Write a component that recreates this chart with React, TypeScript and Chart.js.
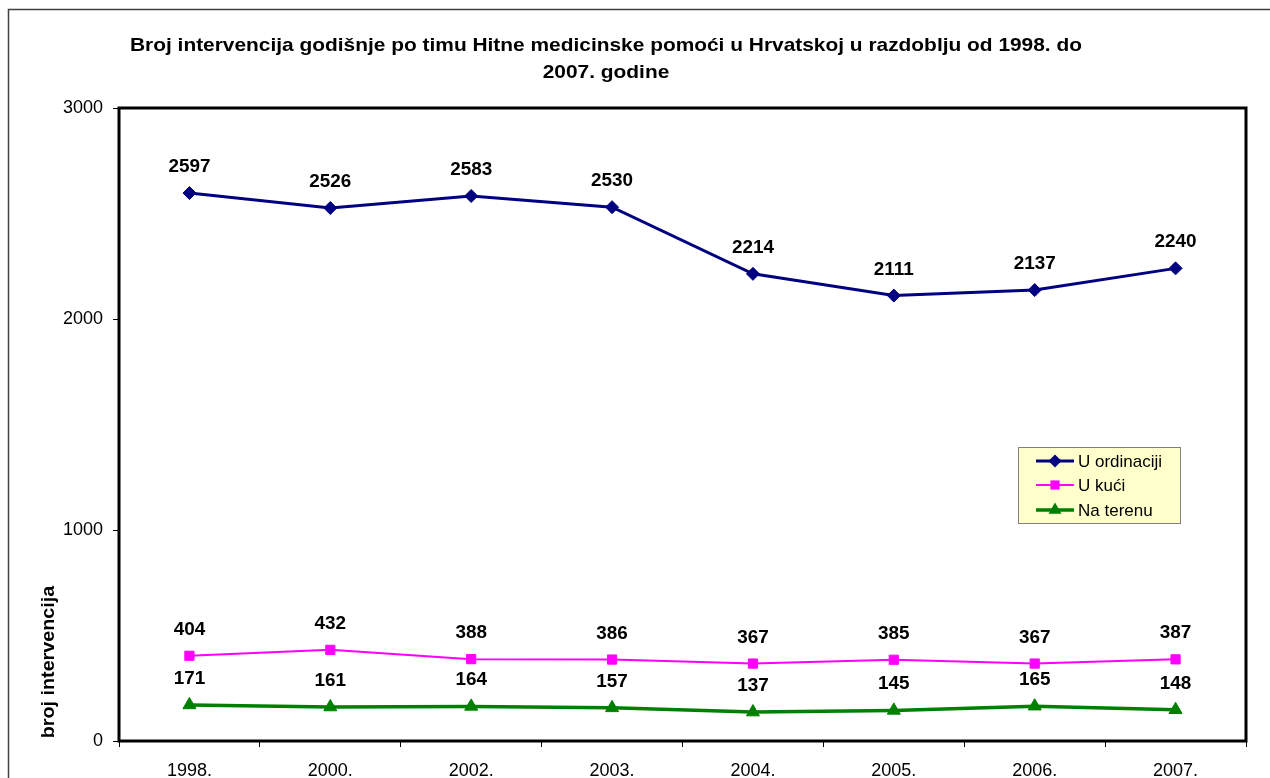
import React, { useEffect, useRef } from "react";
import { Chart, registerables } from "chart.js";

Chart.register(...registerables);

const categories = ["1998.", "2000.", "2002.", "2003.", "2004.", "2005.", "2006.", "2007."];
const uOrdinaciji = [2597, 2526, 2583, 2530, 2214, 2111, 2137, 2240];
const uKuci = [404, 432, 388, 386, 367, 385, 367, 387];
const naTerenu = [171, 161, 164, 157, 137, 145, 165, 148];
const yTicks = [0, 1000, 2000, 3000];

const titleLines = [
  "Broj intervencija godišnje po timu Hitne medicinske pomoći u Hrvatskoj u razdoblju od 1998. do",
  "2007. godine",
];
const yTitle = "broj intervencija";

const FONT = "'Liberation Sans', Arial, Helvetica, sans-serif";

function drawMarker(ctx: CanvasRenderingContext2D, style: string, x: number, y: number, r: number) {
  ctx.beginPath();
  if (style === "rectRot") {
    ctx.moveTo(x, y - r);
    ctx.lineTo(x + r, y);
    ctx.lineTo(x, y + r);
    ctx.lineTo(x - r, y);
  } else if (style === "rect") {
    const s = r * Math.SQRT1_2;
    ctx.rect(x - s, y - s, 2 * s, 2 * s);
  } else {
    const h = r * 1.5;
    const half = (r * Math.sqrt(3)) / 2;
    ctx.moveTo(x, y - h * 0.667);
    ctx.lineTo(x + half, y + h * 0.333);
    ctx.lineTo(x - half, y + h * 0.333);
  }
  ctx.closePath();
  ctx.fill();
}

function fitText(ctx: CanvasRenderingContext2D, text: string, cx: number, cy: number, scaleX: number) {
  ctx.save();
  ctx.translate(cx, cy);
  ctx.scale(scaleX, 1);
  ctx.fillText(text, 0, 0);
  ctx.restore();
}

const decorPlugin = {
  id: "decor",
  beforeDraw(chart: any) {
    const ctx = chart.ctx;
    ctx.save();
    ctx.fillStyle = "#ffffff";
    ctx.fillRect(0, 0, chart.width, chart.height);
    ctx.strokeStyle = "#404040";
    ctx.lineWidth = 1.5;
    ctx.beginPath();
    ctx.moveTo(8.5, chart.height);
    ctx.lineTo(8.5, 9.5);
    ctx.lineTo(chart.width, 9.5);
    ctx.stroke();
    ctx.fillStyle = "#000";
    ctx.font = `bold 19px ${FONT}`;
    ctx.textAlign = "center";
    ctx.textBaseline = "middle";
    const w0 = ctx.measureText(titleLines[0]).width;
    const sx = 952 / w0;
    fitText(ctx, titleLines[0], 606, 46, sx);
    fitText(ctx, titleLines[1], 606, 73, sx);
    ctx.save();
    ctx.translate(49, 662);
    ctx.rotate(-Math.PI / 2);
    fitText(ctx, yTitle, 0, 0, 1.04);
    ctx.restore();
    ctx.restore();
  },
  beforeDatasetsDraw(chart: any) {
    const { ctx, chartArea } = chart;
    ctx.save();
    ctx.strokeStyle = "#000";
    ctx.lineWidth = 3;
    ctx.strokeRect(chartArea.left, chartArea.top, chartArea.right - chartArea.left, chartArea.bottom - chartArea.top);
    ctx.restore();
  },
  afterDatasetsDraw(chart: any) {
    const ctx = chart.ctx;
    ctx.save();
    ctx.fillStyle = "#000";
    ctx.font = `bold 18px ${FONT}`;
    ctx.textAlign = "center";
    ctx.textBaseline = "middle";
    chart.data.datasets.forEach((ds: any, i: number) => {
      const meta = chart.getDatasetMeta(i);
      meta.data.forEach((pt: any, j: number) => {
        fitText(ctx, String(ds.data[j]), pt.x, pt.y - 26, 1.05);
      });
    });
    const lx = 1018, ly = 447, lw = 162, lh = 76;
    ctx.fillStyle = "#FFFFCC";
    ctx.fillRect(lx, ly, lw, lh);
    ctx.strokeStyle = "#808080";
    ctx.lineWidth = 1;
    ctx.strokeRect(lx + 0.5, ly + 0.5, lw, lh);
    const rows = [461, 485, 510];
    ctx.font = `17px ${FONT}`;
    ctx.textAlign = "left";
    chart.data.datasets.forEach((ds: any, i: number) => {
      const y = rows[i];
      ctx.strokeStyle = ds.borderColor;
      ctx.lineWidth = ds.borderWidth;
      ctx.beginPath();
      ctx.moveTo(1036, y);
      ctx.lineTo(1074, y);
      ctx.stroke();
      ctx.fillStyle = ds.pointBackgroundColor;
      drawMarker(ctx, ds.pointStyle, 1055, y, ds.pointRadius);
      ctx.fillStyle = "#000";
      ctx.fillText(ds.label, 1078, y + 1);
    });
    ctx.restore();
  },
};

export default function App() {
  const ref = useRef<HTMLCanvasElement>(null);
  useEffect(() => {
    if (!ref.current) return;
    Chart.defaults.font.family = FONT;
    const chart = new Chart(ref.current, {
      type: "line",
      data: {
        labels: categories,
        datasets: [
          {
            label: "U ordinaciji",
            data: uOrdinaciji,
            borderColor: "#000080",
            backgroundColor: "#000080",
            pointBackgroundColor: "#000080",
            pointBorderColor: "#000080",
            borderWidth: 3,
            pointStyle: "rectRot",
            pointRadius: 6.5,
            pointBorderWidth: 1,
            tension: 0,
          },
          {
            label: "U kući",
            data: uKuci,
            borderColor: "#FF00FF",
            backgroundColor: "#FF00FF",
            pointBackgroundColor: "#FF00FF",
            pointBorderColor: "#FF00FF",
            borderWidth: 2,
            pointStyle: "rect",
            pointRadius: 6.5,
            pointBorderWidth: 1,
            tension: 0,
          },
          {
            label: "Na terenu",
            data: naTerenu,
            borderColor: "#008000",
            backgroundColor: "#008000",
            pointBackgroundColor: "#008000",
            pointBorderColor: "#008000",
            borderWidth: 3.5,
            pointStyle: "triangle",
            pointRadius: 7.5,
            pointBorderWidth: 1,
            tension: 0,
          },
        ],
      },
      options: {
        animation: false,
        responsive: false,
        devicePixelRatio: 1,
        layout: { padding: { left: 0, top: 108, right: 24, bottom: 0 } },
        plugins: { legend: { display: false }, title: { display: false }, tooltip: { enabled: false } },
        scales: {
          x: {
            type: "category",
            offset: true,
            grid: { display: true, drawOnChartArea: false, drawTicks: true, tickLength: 6, color: "#000", lineWidth: 1, offset: true },
            border: { display: false },
            ticks: { color: "#000", font: { size: 18, family: FONT }, padding: 13, maxRotation: 0, autoSkip: false },
            afterFit: (s: any) => { s.height = 37; },
          },
          y: {
            min: 0,
            max: 3000,
            afterBuildTicks: (s: any) => { s.ticks = yTicks.map((v) => ({ value: v })); },
            grid: { display: true, drawOnChartArea: false, drawTicks: true, tickLength: 6, color: "#000", lineWidth: 1 },
            border: { display: false },
            ticks: { color: "#000", font: { size: 18, family: FONT }, padding: 10, callback: (v: any) => String(v) },
            afterFit: (s: any) => { s.width = 119; },
          },
        },
      },
      plugins: [decorPlugin],
    } as any);
    return () => chart.destroy();
  }, []);
  return (
    <div style={{ position: "fixed", left: 0, top: 0, width: 1270, height: 778, overflow: "hidden", background: "#fff" }}>
      <canvas ref={ref} width={1270} height={778} style={{ width: 1270, height: 778, display: "block" }} />
    </div>
  );
}
